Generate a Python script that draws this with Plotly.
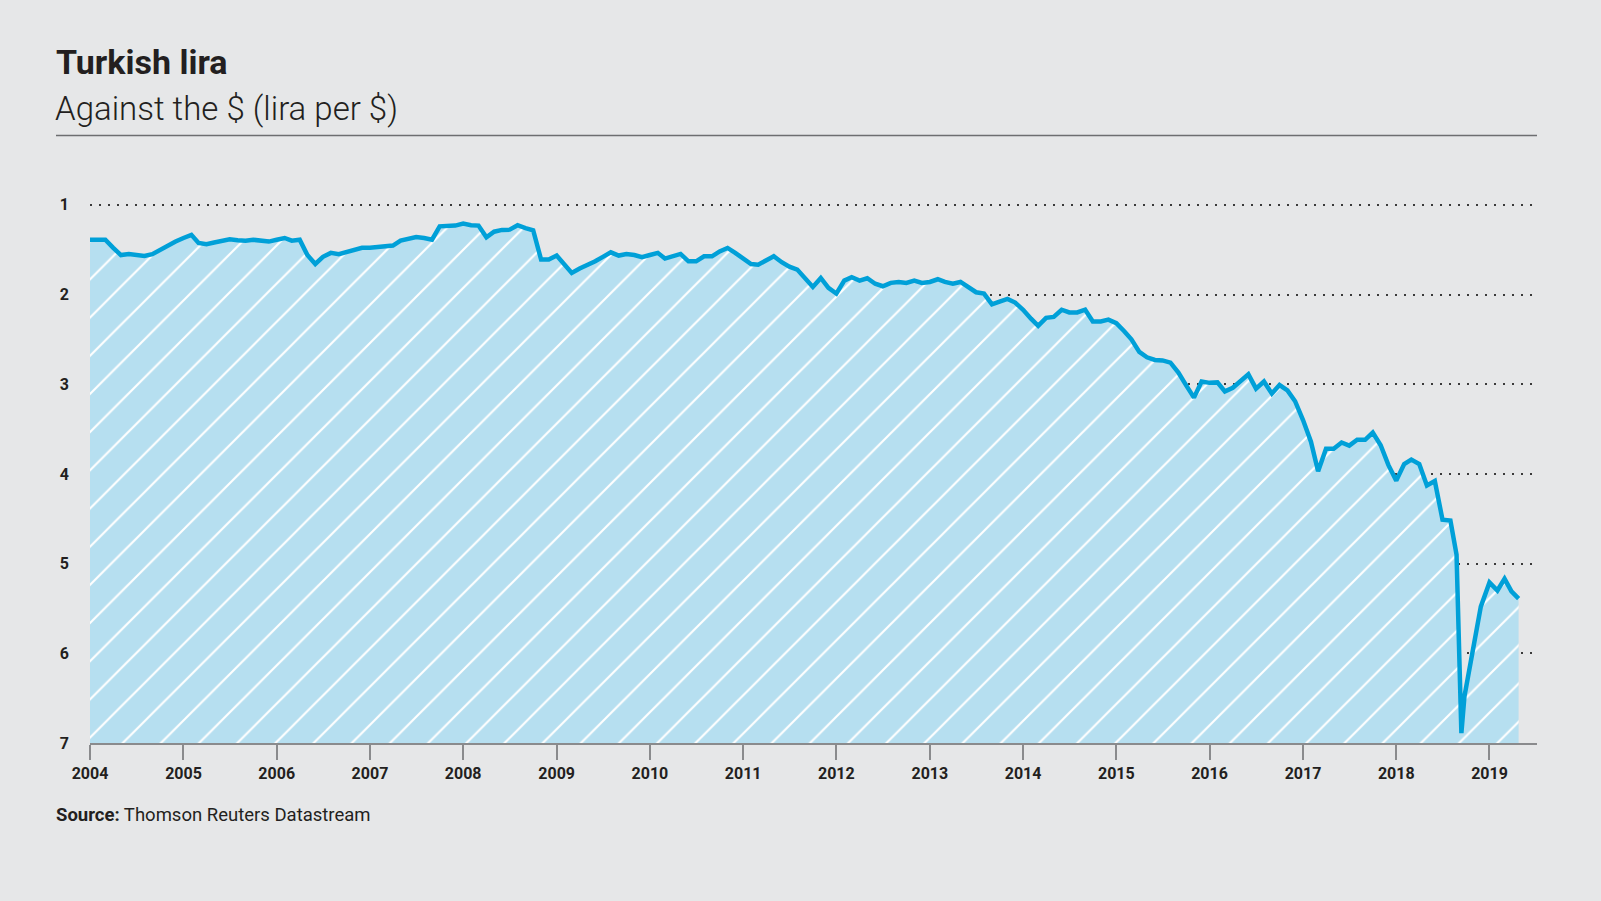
import plotly.graph_objects as go
import pandas as pd

# Monthly lira per $ values (Jan 2004 .. Aug 2018)
v2004 = [1.39, 1.39, 1.39, 1.48, 1.56, 1.55, 1.56, 1.57, 1.55, 1.50, 1.45, 1.41]
v2005 = [1.37, 1.335, 1.425, 1.44, 1.42, 1.40, 1.385, 1.395, 1.40, 1.39, 1.40, 1.41]
v2006 = [1.39, 1.37, 1.40, 1.39, 1.56, 1.66, 1.58, 1.536, 1.55, 1.53, 1.51, 1.48]
v2007 = [1.48, 1.47, 1.455, 1.455, 1.40, 1.381, 1.36, 1.37, 1.388, 1.24, 1.235, 1.232]
v2008 = [1.21, 1.228, 1.232, 1.362, 1.30, 1.28, 1.277, 1.228, 1.26, 1.284, 1.611, 1.611]
v2009 = [1.566, 1.66, 1.76, 1.71, 1.674, 1.63, 1.58, 1.53, 1.566, 1.55, 1.56, 1.585]
v2010 = [1.56, 1.536, 1.60, 1.57, 1.548, 1.63, 1.63, 1.574, 1.574, 1.52, 1.481, 1.536]
v2011 = [1.60, 1.66, 1.667, 1.62, 1.574, 1.64, 1.69, 1.722, 1.82, 1.916, 1.816, 1.927]
v2012 = [1.99, 1.845, 1.808, 1.845, 1.819, 1.88, 1.908, 1.87, 1.86, 1.871, 1.845, 1.871]
v2013 = [1.86, 1.83, 1.86, 1.88, 1.86, 1.92, 1.975, 1.99, 2.11, 2.08, 2.05, 2.09]
v2014 = [2.17, 2.27, 2.35, 2.26, 2.25, 2.17, 2.20, 2.20, 2.17, 2.30, 2.30, 2.28]
v2015 = [2.32, 2.41, 2.50, 2.64, 2.70, 2.73, 2.735, 2.76, 2.87, 3.01, 3.15, 2.97]
v2016 = [2.985, 2.98, 3.08, 3.04, 2.96, 2.89, 3.05, 2.97, 3.105, 3.01, 3.07, 3.19]
v2017 = [3.40, 3.64, 3.97, 3.72, 3.72, 3.65, 3.685, 3.62, 3.62, 3.54, 3.68, 3.90]
v2018 = [4.075, 3.89, 3.84, 3.89, 4.13, 4.08, 4.51, 4.52]

# Irregular points around the August 2018 crash and after
tail_dates = ["2018-08-25", "2018-09-13", "2018-09-25", "2018-11-28",
              "2019-01-01", "2019-02-01", "2019-03-01", "2019-03-28", "2019-04-25"]
tail_vals = [4.90, 6.89, 6.48, 5.48, 5.21, 5.30, 5.17, 5.31, 5.39]

year_ticks = [str(y) for y in range(2004, 2020)]
y_ticks = [1, 2, 3, 4, 5, 6, 7]

monthly = (v2004 + v2005 + v2006 + v2007 + v2008 + v2009 + v2010 + v2011 +
           v2012 + v2013 + v2014 + v2015 + v2016 + v2017 + v2018)
monthly_dates = pd.date_range("2004-01-01", periods=len(monthly), freq="MS")
dates = list(monthly_dates) + list(pd.to_datetime(tail_dates))
values = monthly + tail_vals

Y_MIN_AXIS = 7
LINE = "#00a0d8"
FILL = "#b6dff0"
BG = "#e6e7e8"
TXT = "#231f20"

W, H = 1601, 901
L, R, T, B = 90, 64, 203, 158
PW, PH = W - L - R, H - T - B


def px_x(x):
    return (x - L) / PW


def px_y(y):
    return 1 - (y - T) / PH


fig = go.Figure()
fig.add_trace(go.Scatter(
    x=dates, y=[Y_MIN_AXIS] * len(dates), mode="lines",
    line=dict(width=0, color=FILL), hoverinfo="skip", showlegend=False))
fig.add_trace(go.Scatter(
    x=dates, y=values, mode="lines", fill="tonexty",
    fillcolor=FILL,
    fillpattern=dict(shape="/", bgcolor=FILL, fgcolor="white",
                     size=27, solidity=0.08, fillmode="replace"),
    line=dict(color=LINE, width=4.5, shape="linear"),
    showlegend=False))

fig.update_layout(
    width=W, height=H,
    paper_bgcolor=BG, plot_bgcolor=BG,
    margin=dict(l=L, r=R, t=T, b=B),
    font=dict(family="Roboto, Liberation Sans, sans-serif", color=TXT),
    showlegend=False,
)
fig.update_xaxes(
    type="date",
    range=["2004-01-01", "2019-07-06"],
    tickvals=[f"{y}-01-01" for y in year_ticks],
    ticktext=year_ticks,
    showgrid=False, zeroline=False,
    showline=True, linecolor="#8a8b8d", linewidth=1.5,
    ticks="outside", ticklen=15, tickcolor="#8a8b8d", tickwidth=1.5,
    tickfont=dict(size=16, weight="bold", color=TXT),
)
fig.update_yaxes(
    range=[Y_MIN_AXIS, 0.98],
    tickvals=y_ticks, ticktext=[str(t) for t in y_ticks],
    showgrid=True, gridcolor="#3a3a3a", gridwidth=2, griddash="2px,7px",
    zeroline=False, showline=False, ticks="",
    ticklabelstandoff=20,
    tickfont=dict(size=16, weight="bold", color=TXT),
)

fig.add_annotation(text="Turkish lira", xref="paper", yref="paper",
                   x=px_x(54), y=px_y(84), xanchor="left", yanchor="bottom",
                   showarrow=False, font=dict(size=34, weight="bold", color=TXT))
fig.add_annotation(text="Against the $ (lira per $)", xref="paper", yref="paper",
                   x=px_x(53), y=px_y(130), xanchor="left", yanchor="bottom",
                   showarrow=False, font=dict(size=33, weight=300, color=TXT))
fig.add_shape(type="line", xref="paper", yref="paper",
              x0=px_x(56), x1=1.0, y0=px_y(135.5), y1=px_y(135.5),
              line=dict(color="#6d6e70", width=1.5))
fig.add_annotation(text="<b>Source:</b> Thomson Reuters Datastream", xref="paper", yref="paper",
                   x=px_x(54), y=px_y(828), xanchor="left", yanchor="bottom",
                   showarrow=False, font=dict(size=18.5, color=TXT))

fig.write_html(
    "out.html",
    config={"displayModeBar": False},
    post_script="document.body.style.margin='0';document.body.style.overflow='hidden';",
)
